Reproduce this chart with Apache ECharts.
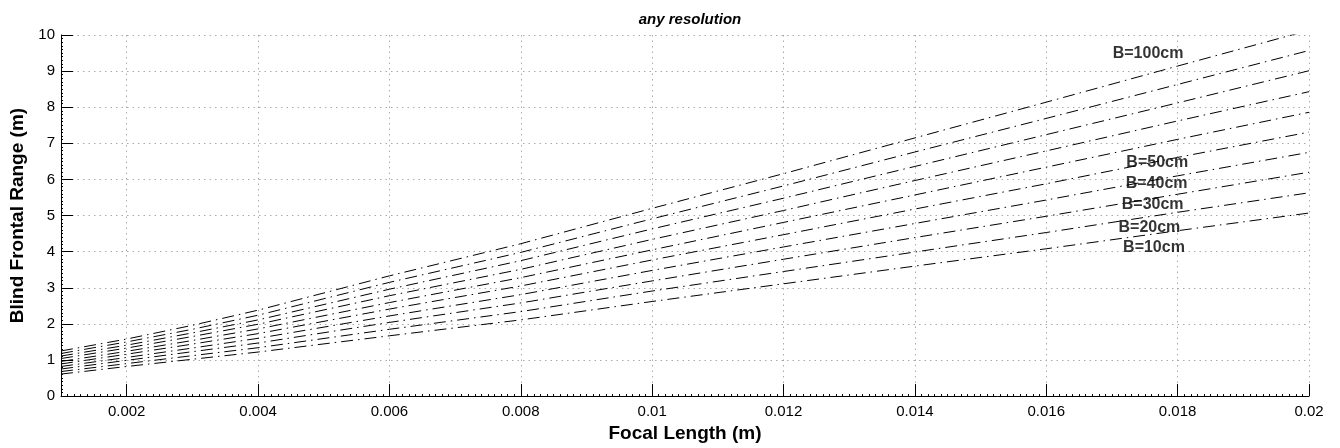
<!DOCTYPE html>
<html>
<head>
    <meta charset="utf-8">
    <title>Blind Frontal Range</title>
    <script src="https://cdn.jsdelivr.net/npm/echarts@6/dist/echarts.min.js"></script>
</head>
<body style="margin:0;background:#fff;">
<div id="main" style="width:1340px;height:448px;"></div>
<script type="text/javascript">
    // focal length (m)
    var focal = [0.001, 0.002, 0.003, 0.004, 0.006, 0.008, 0.010, 0.012, 0.014, 0.016, 0.018, 0.020];

    // blind frontal range (m), one array per baseline
    var b10  = [0.61, 0.82, 1.02, 1.22, 1.67, 2.11, 2.62, 3.11, 3.60, 4.08, 4.58, 5.07];
    var b20  = [0.68, 0.90, 1.12, 1.34, 1.85, 2.34, 2.91, 3.45, 3.99, 4.53, 5.09, 5.63];
    var b30  = [0.75, 0.99, 1.23, 1.47, 2.04, 2.58, 3.19, 3.79, 4.39, 4.98, 5.59, 6.20];
    var b40  = [0.82, 1.07, 1.33, 1.60, 2.22, 2.81, 3.48, 4.13, 4.78, 5.43, 6.10, 6.75];
    var b50  = [0.89, 1.16, 1.44, 1.73, 2.41, 3.05, 3.77, 4.47, 5.18, 5.88, 6.61, 7.31];
    var b60  = [0.96, 1.24, 1.54, 1.86, 2.59, 3.28, 4.05, 4.81, 5.57, 6.34, 7.11, 7.86];
    var b70  = [1.04, 1.33, 1.65, 1.99, 2.78, 3.51, 4.34, 5.14, 5.97, 6.79, 7.62, 8.43];
    var b80  = [1.11, 1.41, 1.75, 2.11, 2.96, 3.75, 4.63, 5.48, 6.36, 7.24, 8.12, 9.01];
    var b90  = [1.18, 1.50, 1.85, 2.24, 3.15, 3.98, 4.91, 5.82, 6.76, 7.69, 8.63, 9.57];
    var b100 = [1.25, 1.58, 1.96, 2.38, 3.33, 4.22, 5.20, 6.16, 7.15, 8.14, 9.14, 10.13];

    var curves = [b10, b20, b30, b40, b50, b60, b70, b80, b90, b100];
    var curveNames = ['B=10cm', 'B=20cm', 'B=30cm', 'B=40cm', 'B=50cm',
                      'B=60cm', 'B=70cm', 'B=80cm', 'B=90cm', 'B=100cm'];

    // text labels written on the plot
    var labelNames = ['B=100cm', 'B=50cm', 'B=40cm', 'B=30cm', 'B=20cm', 'B=10cm'];

    var myChart = echarts.init(document.getElementById('main'));

    var font = '"Liberation Sans", Arial, Helvetica, sans-serif';

    // label anchors, in data coordinates
    var labelAt = [[0.01755, 9.49], [0.01769, 6.46], [0.01768, 5.88],
                   [0.01762, 5.30], [0.01757, 4.67], [0.01764, 4.12]];

    var series = [];
    for (var i = 0; i < curves.length; i++) {
        series.push({
            name: curveNames[i],
            type: 'line',
            symbol: 'none',
            silent: true,
            lineStyle: {color: '#000', width: 1, type: [12, 5, 1.5, 5]},
            data: focal.map(function (x, k) { return [x, curves[i][k]]; })
        });
    }
    series.push({
        type: 'scatter',
        symbolSize: 0,
        silent: true,
        itemStyle: {color: '#000'},
        label: {
            show: true,
            position: 'inside',
            formatter: function (p) { return labelNames[p.dataIndex]; },
            color: '#000',
            textBorderWidth: 0,
            textBorderColor: 'transparent',
            fontWeight: 'bold',
            fontSize: 16,
            fontFamily: font
        },
        data: labelAt
    });

    option = {
        animation: false,
        title: {
            text: 'any resolution',
            left: 685,
            textAlign: 'center',
            top: 7,
            textStyle: {fontSize: 15, fontWeight: 'bold', fontStyle: 'italic', color: '#000', fontFamily: font}
        },
        grid: {left: 61, right: 31, top: 35, bottom: 51, containLabel: false},
        xAxis: {
            type: 'value',
            min: 0.001,
            max: 0.02,
            splitNumber: 10,
            name: 'Focal Length (m)',
            nameLocation: 'middle',
            nameGap: 24,
            nameTextStyle: {fontSize: 19, fontWeight: 'bold', color: '#000', fontFamily: font},
            axisLine: {lineStyle: {color: '#000', width: 1}},
            axisTick: {inside: true, length: 12, lineStyle: {color: '#000'}},
            minorTick: {show: true, splitNumber: 20, length: 2, lineStyle: {color: '#000'}},
            axisLabel: {showMinLabel: false, fontSize: 15, color: '#000', margin: 8, fontFamily: font},
            splitLine: {show: true, lineStyle: {color: '#aaa', type: [1.5, 4], width: 1}}
        },
        yAxis: {
            type: 'value',
            min: 0,
            max: 10,
            interval: 1,
            name: 'Blind Frontal Range (m)',
            nameLocation: 'middle',
            nameGap: 31,
            nameTextStyle: {fontSize: 19, fontWeight: 'bold', color: '#000', fontFamily: font},
            axisLine: {show: true, lineStyle: {color: '#000', width: 1}},
            axisTick: {show: true, inside: true, length: 12, lineStyle: {color: '#000'}},
            minorTick: {show: true, splitNumber: 10, length: 2, lineStyle: {color: '#000'}},
            axisLabel: {fontSize: 15, color: '#000', margin: 6, fontFamily: font},
            splitLine: {show: true, lineStyle: {color: '#aaa', type: [1.5, 4], width: 1}}
        },
        series: series
    };

    myChart.setOption(option);
</script>
</body>
</html>
